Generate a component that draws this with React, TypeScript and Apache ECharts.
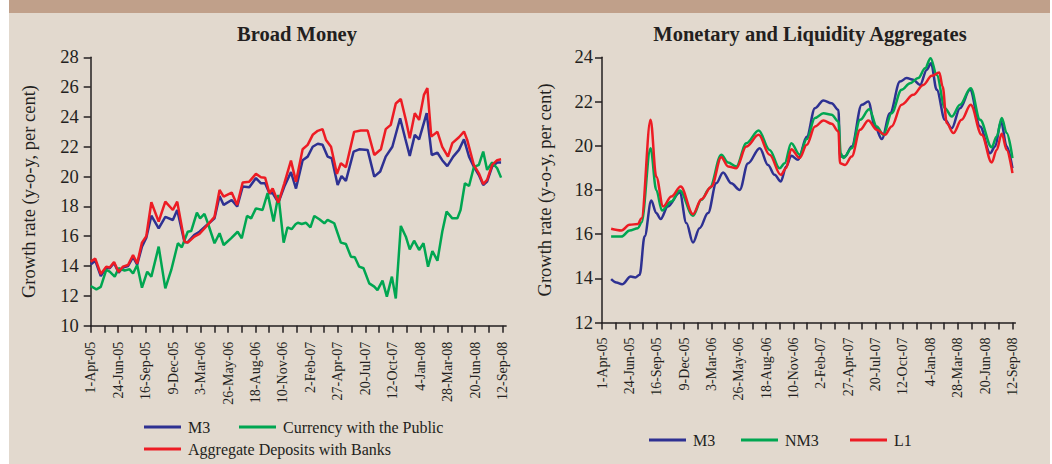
import React, { useEffect, useRef } from 'react';
import * as echarts from 'echarts';

const dateLabels = ['1-Apr-05', '24-Jun-05', '16-Sep-05', '9-Dec-05', '3-Mar-06', '26-May-06', '18-Aug-06', '10-Nov-06', '2-Feb-07', '27-Apr-07', '20-Jul-07', '12-Oct-07', '4-Jan-08', '28-Mar-08', '20-Jun-08', '12-Sep-08'];

// Broad Money: [week since 1-Apr-05, growth %]
const bmM3: [number, number][] = [[0,14.1],[2,14.36],[4.4,13.33],[6.8,13.9],[8.3,13.85],[10.2,14.2],[12.2,13.55],[14.1,13.9],[16.3,14.0],[18.5,14.6],[20.3,14.1],[22.4,15.3],[24.3,15.9],[26.5,17.38],[29.7,16.53],[32.6,17.3],[35.9,17.09],[37.8,17.76],[41.0,15.6],[42.4,15.6],[45.3,16.1],[47.5,16.3],[50.4,16.7],[54.1,17.2],[56.3,18.7],[58.1,18.1],[61.6,18.43],[64.0,17.99],[66.4,19.33],[69.3,19.28],[72.2,19.9],[74.4,19.55],[76.2,19.55],[78.1,18.88],[79.5,18.9],[82.0,18.25],[84.6,19.33],[87.5,20.3],[89.7,19.2],[92.6,21.1],[94.8,21.34],[97.0,22.0],[99.2,22.2],[101.3,22.13],[103.5,21.34],[105.3,21.23],[107.9,19.44],[109.6,20.04],[111.5,19.71],[114.9,21.68],[117.3,21.83],[121.0,21.79],[123.9,20.0],[126.5,20.34],[128.9,21.34],[131.8,22.0],[135.2,23.91],[137.4,22.57],[139.4,21.39],[141.6,22.8],[143.5,22.5],[146.8,24.25],[149.0,21.45],[151.5,21.6],[153.6,21.1],[155.8,20.7],[158.4,21.34],[160.9,21.79],[163.1,22.5],[165.3,21.34],[167.4,20.67],[169.6,20.1],[171.5,19.44],[173.2,19.66],[175.4,20.67],[177.6,20.94],[179.3,20.94]];
const bmCurrency: [number, number][] = [[0,12.66],[2.5,12.44],[4.4,12.6],[6.8,13.74],[8.3,13.62],[10.5,13.29],[12.2,13.85],[14.8,13.7],[17.0,13.78],[18.5,13.5],[20.3,14.07],[22.4,12.55],[24.7,13.62],[26.5,13.29],[29.7,15.3],[32.6,12.5],[35.2,13.74],[38.1,15.53],[39.8,15.26],[42.4,16.3],[43.9,16.35],[46.4,17.58],[47.8,17.2],[49.7,17.5],[51.2,16.87],[54.1,15.53],[56.3,16.2],[58.1,15.41],[61.3,15.86],[64.2,16.3],[66.0,15.86],[68.3,17.36],[70.1,17.2],[72.2,17.87],[75.1,17.76],[77.3,18.9],[79.9,16.98],[82.0,18.77],[84.3,15.57],[86.0,16.6],[87.8,16.47],[89.5,16.8],[90.5,16.9],[92.2,16.82],[94.1,16.9],[96.0,16.6],[97.7,17.36],[99.9,17.14],[102.1,16.87],[103.5,17.09],[105.0,16.98],[106.4,16.87],[109.3,15.57],[111.5,15.48],[113.7,14.63],[115.4,14.59],[117.3,13.96],[119.2,13.85],[121.7,12.84],[123.9,12.62],[125.3,12.39],[127.5,13.02],[129.4,11.95],[131.6,13.29],[133.3,11.83],[135.5,16.69],[137.7,15.97],[139.4,15.12],[141.3,15.7],[143.5,15.08],[145.4,15.53],[147.4,13.96],[149.3,15.01],[151.5,14.36],[153.6,16.3],[155.5,17.65],[158.0,17.2],[160.2,17.2],[161.6,17.76],[163.5,19.55],[165.3,19.37],[167.4,20.63],[169.6,20.78],[171.5,21.68],[173.2,20.45],[175.4,20.94],[177.6,20.56],[179.3,19.93]];
const bmDeposits: [number, number][] = [[0,14.3],[2,14.5],[4.4,13.47],[6.8,13.96],[8.3,13.9],[10.2,14.27],[12.2,13.6],[14.1,13.96],[16.3,14.07],[18.5,14.74],[20.3,14.18],[22.4,15.57],[24.3,16.0],[26.5,18.28],[29.7,16.98],[32.6,18.32],[35.9,17.76],[37.8,18.32],[41.0,15.64],[42.4,15.57],[45.3,15.97],[47.5,16.15],[50.4,16.64],[54.1,17.3],[56.3,19.1],[58.1,18.66],[61.6,18.93],[64.0,18.1],[66.4,19.6],[69.3,19.66],[72.2,20.18],[74.4,19.96],[76.2,19.93],[78.1,18.88],[79.5,19.2],[82.0,18.25],[84.6,19.55],[87.5,21.07],[89.7,19.66],[92.6,21.83],[94.8,22.13],[97.0,22.8],[99.2,23.07],[101.3,23.18],[102.8,22.46],[105.0,22.0],[107.6,20.18],[109.3,20.9],[111.5,20.63],[115.1,23.0],[118.0,23.09],[121.0,23.09],[123.9,21.45],[126.8,21.83],[128.9,23.18],[131.1,23.47],[133.3,24.9],[135.5,25.2],[137.7,23.8],[139.4,22.57],[141.6,24.25],[143.5,23.8],[145.6,25.48],[147.1,25.93],[148.8,22.68],[151.5,23.0],[153.6,22.0],[156.1,21.34],[158.0,22.24],[160.9,22.64],[163.1,23.02],[164.5,22.46],[167.4,20.78],[169.6,20.22],[171.5,19.5],[173.2,19.78],[175.4,20.78],[177.6,21.1],[179.3,21.16]];

// Monetary and Liquidity Aggregates
const mlM3: [number, number][] = [[4,13.96],[6.3,13.81],[8.8,13.73],[12.6,14.08],[14.6,14.04],[16.5,14.16],[18.7,15.9],[21.6,17.52],[23.8,16.95],[25.7,16.68],[28.9,17.25],[34.1,17.88],[37.0,16.5],[39.9,15.62],[42.8,16.27],[46.5,16.95],[50.1,18.3],[53.1,18.79],[56.7,18.3],[60.4,18.0],[64.0,19.2],[69.2,19.89],[72.8,19.13],[75.7,18.68],[78.4,18.38],[80.8,19.06],[83.0,19.54],[86.0,19.36],[89.8,20.4],[93.4,21.7],[97.1,22.05],[100.7,21.92],[103.7,21.62],[104.4,19.51],[106.6,19.51],[109.5,19.96],[113.9,21.85],[116.8,22.0],[119.7,20.87],[122.7,20.3],[126.3,21.47],[130.7,22.9],[133.6,23.06],[136.5,22.98],[139.5,22.75],[142.4,23.43],[144.3,23.73],[146.8,22.53],[150.4,21.17],[153.4,20.79],[157.0,21.7],[161.4,22.53],[165.8,20.87],[170.2,19.66],[172.4,19.96],[175.0,21.09],[177.5,19.96],[180.0,18.98]];
const mlNM3: [number, number][] = [[4,15.89],[8.5,15.89],[12.1,16.16],[15.8,16.27],[17.3,16.52],[21.3,19.89],[23.8,18.0],[26.3,17.07],[30.4,17.47],[34.1,17.97],[39.9,16.83],[43.6,17.55],[47.2,18.08],[52.3,19.59],[55.3,19.24],[58.9,19.06],[63.3,20.11],[68.7,20.69],[73.5,19.81],[77.9,18.98],[80.1,19.21],[83.0,20.11],[86.7,19.59],[89.8,20.3],[93.4,21.25],[97.1,21.47],[100.7,21.4],[103.7,21.09],[104.7,19.66],[105.8,19.44],[109.5,19.89],[113.2,21.17],[117.2,21.65],[120.5,20.87],[123.4,20.49],[127.0,21.47],[131.4,22.53],[135.1,22.83],[138.7,23.06],[141.7,23.5],[144.1,23.96],[146.8,23.2],[150.4,21.7],[153.4,21.32],[157.0,21.85],[161.7,22.6],[165.8,21.17],[170.9,19.93],[173.1,20.42],[175.3,21.25],[177.5,20.57],[180.0,19.44]];
const mlL1: [number, number][] = [[4,16.24],[8.5,16.16],[12.1,16.42],[15.8,16.46],[17.3,16.72],[21.3,21.17],[23.8,18.6],[26.8,17.25],[30.4,17.7],[34.5,18.15],[39.9,16.9],[43.6,17.58],[48.0,18.15],[52.3,19.48],[55.3,19.06],[58.9,18.98],[63.3,19.96],[68.7,20.49],[73.5,19.59],[78.4,18.68],[80.7,18.98],[83.0,19.84],[86.7,19.44],[89.8,20.04],[93.4,20.87],[97.1,21.14],[100.7,20.99],[103.7,20.64],[104.4,19.21],[106.6,19.13],[109.5,19.51],[113.2,20.72],[116.8,21.14],[120.5,20.72],[124.1,20.49],[127.0,20.87],[131.4,21.85],[136.5,22.3],[140.9,22.75],[144.6,23.16],[147.9,23.31],[149.4,22.68],[151.2,21.02],[154.1,20.57],[157.7,21.17],[161.7,21.85],[166.5,20.49],[170.9,19.24],[173.1,19.81],[175.3,20.54],[177.5,19.81],[180.0,18.76]];

const INK = '#231f20';
const BLUE = '#2e3192';
const GREEN = '#00a651';
const RED = '#ed1c24';
const SERIF = '"Liberation Serif", "Times New Roman", serif';

export default function App() {
  const ref = useRef<HTMLDivElement>(null);

  useEffect(() => {
    if (!ref.current) return;
    const chart = echarts.init(ref.current, null, { renderer: 'svg' });
    const tickVals = Array.from({ length: 31 }, (_, i) => i * 6);
    const labelVals = dateLabels.map((_, i) => i * 12);

    const xAxis = (gridIndex: number, max: number, margin: number) => ({
      type: 'value',
      gridIndex,
      min: 0,
      max,
      splitLine: { show: false },
      axisLine: { show: true, lineStyle: { color: INK, width: 1.5 } },
      axisTick: { show: true, length: 7, lineStyle: { color: INK, width: 1.5 }, customValues: tickVals },
      axisLabel: {
        rotate: 90,
        margin,
        fontFamily: SERIF,
        fontSize: 14,
        color: INK,
        customValues: labelVals,
        formatter: (v: number) => (Math.abs(v / 12 - Math.round(v / 12)) < 1e-6 ? dateLabels[Math.round(v / 12)] ?? '' : ''),
      },
    });
    const yAxis = (gridIndex: number, min: number, max: number, margin: number, nameGap: number) => ({
      type: 'value',
      gridIndex,
      min,
      max,
      interval: 2,
      name: 'Growth rate (y-o-y, per cent)',
      nameLocation: 'middle',
      nameGap,
      nameTextStyle: { fontFamily: SERIF, fontSize: 18.5, color: INK },
      splitLine: { show: false },
      axisLine: { show: true, lineStyle: { color: INK, width: 1.5 } },
      axisTick: { show: true, length: 7, lineStyle: { color: INK, width: 1.5 } },
      axisLabel: { margin, fontFamily: SERIF, fontSize: 18.5, color: INK },
    });
    const line = (name: string, data: [number, number][], color: string, idx: number, smooth: number | boolean) => ({
      type: 'line',
      name,
      data,
      xAxisIndex: idx,
      yAxisIndex: idx,
      showSymbol: false,
      symbol: 'none',
      smooth,
      smoothMonotone: 'x',
      color,
      itemStyle: { color },
      lineStyle: { color, width: 2.5 },
    });
    const legendText = { fontFamily: SERIF, fontSize: 16, color: INK, padding: [0, 0, 0, 2] };
    const legend = (name: string, left: number, centerY: number) => ({
      data: [name],
      left,
      top: centerY - 8,
      padding: 0,
      icon: 'rect',
      itemWidth: 37,
      itemHeight: 3,
      selectedMode: false,
      textStyle: legendText,
    });

    chart.setOption({
      animation: false,
      backgroundColor: 'transparent',
      graphic: [
        { type: 'text', x: 297, y: 33.5, style: { text: 'Broad Money', fill: INK, font: `bold 20.5px ${SERIF}`, textAlign: 'center', textVerticalAlign: 'middle' } },
        { type: 'text', x: 810, y: 33.5, style: { text: 'Monetary and Liquidity Aggregates', fill: INK, font: `bold 20.5px ${SERIF}`, textAlign: 'center', textVerticalAlign: 'middle' } },
      ],
      legend: [
        legend('M3', 144, 427),
        legend('Currency with the Public', 239, 427),
        legend('Aggregate Deposits with Banks', 144, 449),
        legend('M3', 649, 440),
        legend('NM3', 741, 440),
        legend('L1', 850, 440),
      ],
      grid: [
        { left: 90.7, top: 57.3, width: 415.4, height: 268.4 },
        { left: 602, top: 57.3, width: 413.4, height: 265.2 },
      ],
      xAxis: [xAxis(0, 181.5, 16), xAxis(1, 181.3, 15)],
      yAxis: [yAxis(0, 10, 28, 12, 52), yAxis(1, 12, 24, 9, 48)],
      series: [
        line('M3', bmM3, BLUE, 0, false),
        line('Currency with the Public', bmCurrency, GREEN, 0, false),
        line('Aggregate Deposits with Banks', bmDeposits, RED, 0, false),
        line('M3', mlM3, BLUE, 1, 0.35),
        line('NM3', mlNM3, GREEN, 1, 0.35),
        line('L1', mlL1, RED, 1, 0.35),
      ],
    });
    return () => chart.dispose();
  }, []);

  return (
    <div style={{ position: 'fixed', left: 0, top: 0, width: 1052, height: 464, background: '#ffffff', overflow: 'hidden' }}>
      <div style={{ position: 'absolute', left: 9, top: 0, width: 1041, height: 464, background: '#e2d9ce' }} />
      <div style={{ position: 'absolute', left: 9, top: 0, width: 1041, height: 12.5, background: '#c0a08a' }} />
      <div ref={ref} style={{ position: 'absolute', left: 0, top: 0, width: 1052, height: 464 }} />
    </div>
  );
}
